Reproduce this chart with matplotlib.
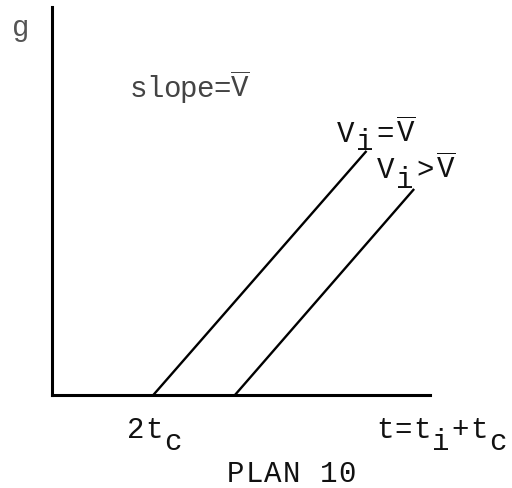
import matplotlib
matplotlib.use("Agg")
import matplotlib.pyplot as plt

plt.rcParams['font.family'] = ['Liberation Mono', 'DejaVu Sans Mono']
plt.rcParams['mathtext.fontset'] = 'custom'
plt.rcParams['mathtext.rm'] = 'Liberation Mono'
plt.rcParams['mathtext.it'] = 'Liberation Mono'

# two parallel lines g(t): start on the t axis, same slope
t_start = [2.68, 4.84]
t_end = [8.32, 9.58]
g_end = [6.29, 5.31]

W, H = 512, 489
fig = plt.figure(figsize=(W/100, H/100), dpi=100)
ax = fig.add_axes([52/W, 93/H, 378/W, 388/H])
ax.set_xlim(0, 10)
ax.set_ylim(0, 10)

for t0, t1, g1 in zip(t_start, t_end, g_end):
	ax.plot([t0, t1], [0, g1], color="black", lw=1.7, solid_capstyle="butt")

for s in ["top", "right"]:
	ax.spines[s].set_visible(False)
ax.spines["left"].set_linewidth(2.2)
ax.spines["bottom"].set_linewidth(2.2)
ax.set_xticks([])
ax.set_yticks([])

VBAR = r"$\overline{\mathrm{V}}$"

def typed(x, y, chars, drops, pitch, size=21, color="#111111"):
	# one glyph per typewriter cell, subscripts are just dropped half a line
	for k, (ch, d) in enumerate(zip(chars, drops)):
		fig.text((x + k*pitch)/W, 1 - (y + d)/H, ch, fontsize=size,
			color=color, va="baseline", ha="left")

typed(12, 36, ["g"], [0], 17, color="#555555")
typed(130, 97, list("slope=") + [VBAR], [0]*7, 16.6, color="#444444")
typed(337, 142, ["V", "i", "=", VBAR], [0, 8, 0, 0], 19.5)
typed(377, 178, ["V", "i", ">", VBAR], [0, 10, 0, 0], 19.5)
typed(127, 438, ["2", "t", "c"], [0, 0, 12], 18.5)
typed(376, 438, ["t", "=", "t", "i", "+", "t", "c"], [0, 0, 0, 12, 0, 0, 12], 18.8)
typed(227, 482, list("PLAN 10"), [0]*7, 18.5)

plt.savefig("out.png", dpi=100)
